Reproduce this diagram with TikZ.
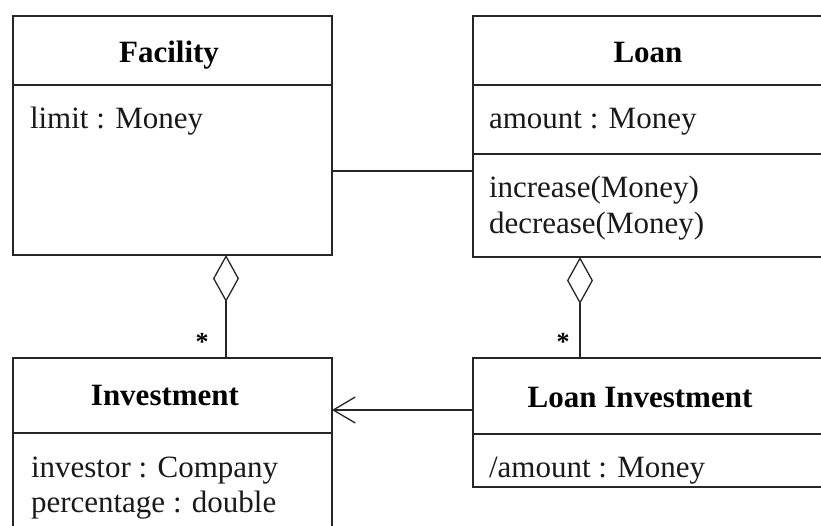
\documentclass[tikz,border=0pt]{standalone}
\usepackage{fontspec}
\setmainfont{Liberation Serif}
\usetikzlibrary{arrows.meta}
\begin{document}
\begin{tikzpicture}[x=1pt,y=-1pt,
  every node/.style={inner sep=0pt,outer sep=0pt},
  box/.style={draw=black!85,line width=1.3pt,anchor=north west,rectangle},
  sep/.style={draw=black!85,line width=1.3pt},
  txt/.style={font=\fontsize{31}{36}\selectfont,anchor=base west,text=black!90},
  hdr/.style={font=\fontsize{31}{36}\selectfont\bfseries,anchor=base,text=black},
  star/.style={font=\fontsize{26}{30}\selectfont\bfseries,text=black},
  conn/.style={draw=black!85,line width=1.3pt},
  agg/.style={conn,{Diamond[open,length=47pt,width=26pt,line width=1.3pt]}-}
]
\useasboundingbox (0,0) rectangle (821,525);
\clip (0,0) rectangle (821,525);
% boxes
\node[box,minimum width=319pt,minimum height=239pt] (fac) at (13,16) {};
\node[box,minimum width=352pt,minimum height=241pt] (loan) at (473,16) {};
\node[box,minimum width=319pt,minimum height=200pt] (inv) at (13,358) {};
\node[box,minimum width=352pt,minimum height=129pt] (li) at (473,358) {};
% compartment dividers
\draw[sep] (fac.west |- 0,85) -- (fac.east |- 0,85);
\draw[sep] (loan.west |- 0,85) -- (loan.east |- 0,85);
\draw[sep] (loan.west |- 0,154) -- (loan.east |- 0,154);
\draw[sep] (inv.west |- 0,433) -- (inv.east |- 0,433);
\draw[sep] (li.west |- 0,434) -- (li.east |- 0,434);
% texts
\node[hdr] (facT) at (169,62) {Facility};
\node[txt] (facA) at (30,128) {limit : Money};
\node[hdr] (loanT) at (648,62) {Loan};
\node[txt] (loanA) at (489,128) {amount : Money};
\node[txt] (loanO1) at (489,197) {increase(Money)};
\node[txt] (loanO2) at (489,233) {decrease(Money)};
\node[hdr] (invT) at (165,405) {Investment};
\node[txt] (invA1) at (31,477) {investor : Company};
\node[txt] (invA2) at (31,512) {percentage : double};
\node[hdr] (liT) at (640,407) {Loan Investment};
\node[txt] (liA) at (489,477) {/amount : Money};
% connectors
\coordinate (c1) at (226,0);
\coordinate (c2) at (580,0);
\draw[agg] (fac.south -| c1) -- (inv.north -| c1);
\draw[agg] (loan.south -| c2) -- (li.north -| c2);
\draw[conn] (fac.east |- 0,171) -- (loan.west |- 0,171);
\draw[conn,-{Straight Barb[length=22pt,width=26pt,line width=1.3pt]}] (li.west |- 0,410) -- (inv.east |- 0,410);
% multiplicities
\node[star] (s1) at (202,342) {*};
\node[star] (s2) at (563,342) {*};
\end{tikzpicture}
\end{document}
